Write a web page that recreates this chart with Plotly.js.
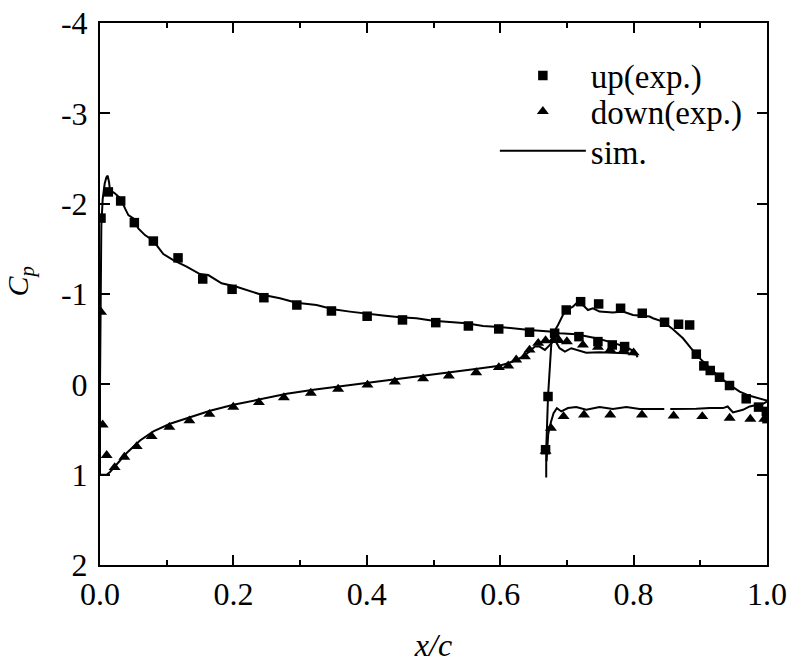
<!DOCTYPE html>
<html>
<head>
<meta charset="utf-8">
<script src="https://cdn.plot.ly/plotly-3.0.1.min.js"></script>
<style>
  html, body { margin: 0; padding: 0; background: #fff; }
  #chart { width: 791px; height: 666px; }
</style>
</head>
<body>
<div id="chart"></div>
<script>
// Pressure coefficient on a two-element airfoil (main element + flap)

// Experimental points, upper surfaces (main element, then flap)
const upX = [0.0015, 0.0125, 0.031, 0.0515, 0.080, 0.117, 0.154, 0.198, 0.2457, 0.2951,
  0.347, 0.4005, 0.4535, 0.5034, 0.5523, 0.5978, 0.644, 0.6816, 0.718, 0.7465, 0.768, 0.7865,
  0.668, 0.6717, 0.699, 0.7206, 0.7476, 0.7805, 0.813, 0.8464, 0.8674, 0.884, 0.894, 0.9053,
  0.9149, 0.9288, 0.9438, 0.9688, 0.9873, 0.999, 1.0];
const upCp = [-1.84, -2.13, -2.03, -1.79, -1.586, -1.40, -1.166, -1.052, -0.959, -0.878,
  -0.812, -0.754, -0.713, -0.683, -0.646, -0.613, -0.577, -0.566, -0.528, -0.473, -0.436, -0.418,
  0.724, 0.135, -0.823, -0.915, -0.89, -0.842, -0.787, -0.687, -0.665, -0.657, -0.334, -0.204,
  -0.153, -0.079, 0.013, 0.16, 0.252, 0.30, 0.38];

// Experimental points, lower surfaces (main element, then flap)
const downX = [0.0015, 0.004, 0.01, 0.022, 0.0365, 0.055, 0.0774, 0.104, 0.134, 0.164,
  0.1998, 0.2382, 0.2757, 0.3161, 0.357, 0.401, 0.442, 0.4844, 0.523, 0.564, 0.598, 0.612,
  0.624, 0.637, 0.644, 0.657, 0.668, 0.68, 0.688, 0.70, 0.724, 0.7465, 0.765, 0.785, 0.80,
  0.668, 0.676, 0.695, 0.7256, 0.765, 0.8125, 0.86, 0.903, 0.944, 0.975, 0.996];
const downCp = [-0.80, 0.448, 0.785, 0.92, 0.805, 0.687, 0.577, 0.475, 0.403, 0.33,
  0.252, 0.20, 0.146, 0.097, 0.053, 0.006, -0.028, -0.063, -0.094, -0.131, -0.187, -0.205,
  -0.271, -0.308, -0.381, -0.455, -0.484, -0.492, -0.487, -0.473, -0.436, -0.411, -0.381, -0.373, -0.351,
  0.74, 0.484, 0.356, 0.337, 0.337, 0.337, 0.348, 0.356, 0.374, 0.385, 0.385];

// Simulation: main element (lower TE -> LE -> upper TE), flap upper, flap lower; null breaks the line
const simX = [0.803, 0.789, 0.769, 0.749, 0.729, 0.714, 0.7066, 0.697, 0.689, 0.682, 0.674, 0.667,
  0.659, 0.652, 0.644, 0.634, 0.619, 0.599, 0.56, 0.52, 0.48, 0.44, 0.40, 0.36, 0.32, 0.28,
  0.24, 0.20, 0.165, 0.13, 0.105, 0.08, 0.06, 0.04, 0.0225, 0.015, 0.01, 0.0,
  0.0, 0.001, 0.002, 0.004, 0.007, 0.0095, 0.0115, 0.0135, 0.015, 0.0225, 0.031, 0.0375, 0.0425,
  0.05, 0.0574, 0.0674, 0.0799, 0.0949, 0.1099, 0.1298, 0.1498, 0.1623, 0.1823, 0.2047, 0.2397,
  0.2697, 0.2946, 0.3246, 0.3496, 0.3745, 0.3995, 0.4245, 0.4494, 0.4744, 0.4994, 0.5243, 0.5493,
  0.5743, 0.599, 0.644, 0.674, 0.689, 0.714, 0.744, 0.769, 0.789, 0.8015, 0.806,
  null,
  0.669, 0.669, 0.6717, 0.674, 0.6767, 0.68, 0.6867, 0.694, 0.70, 0.709, 0.7166, 0.724, 0.7316,
  0.739, 0.749, 0.769, 0.784, 0.799, 0.824, 0.829, 0.844, 0.859, 0.874, 0.886, 0.899, 0.914,
  0.929, 0.944, 0.959, 0.974, 0.989, 1.0,
  null,
  0.6695, 0.672, 0.676, 0.68, 0.685, 0.6916, 0.7016, 0.714, 0.729, 0.749, 0.769, 0.789, 0.809,
  0.819, 0.846, null, 0.855, 0.874, 0.894, 0.914, 0.934, 0.941, 0.949, 0.964, 0.974, 0.986, 0.994, 1.0];
const simCp = [-0.33, -0.345, -0.351, -0.356, -0.351, -0.381, -0.40, -0.363, -0.40, -0.492, -0.436, -0.381,
  -0.418, -0.418, -0.363, -0.307, -0.252, -0.205, -0.168, -0.13, -0.094, -0.057, -0.02, 0.017, 0.061, 0.105,
  0.164, 0.227, 0.293, 0.373, 0.436, 0.52, 0.621, 0.76, 0.908, 0.97, 1.0, 1.0,
  0.0, -1.2, -1.75, -2.05, -2.22, -2.29, -2.31, -2.24, -2.15, -2.113, -2.057, -1.947, -1.873,
  -1.836, -1.726, -1.652, -1.589, -1.442, -1.376, -1.302, -1.221, -1.21, -1.118, -1.08, -0.997,
  -0.952, -0.904, -0.878, -0.831, -0.805, -0.787, -0.761, -0.742, -0.731, -0.705, -0.694, -0.676,
  -0.645, -0.635, -0.602, -0.584, -0.566, -0.555, -0.51, -0.462, -0.411, -0.363, -0.30,
  null,
  1.03, 0.724, 0.135, -0.197, -0.455, -0.573, -0.657, -0.768, -0.823, -0.86, -0.915, -0.878, -0.823,
  -0.842, -0.805, -0.794, -0.805, -0.768, -0.75, -0.732, -0.694, -0.61, -0.51, -0.40, -0.29, -0.18,
  -0.08, 0.006, 0.08, 0.127, 0.16, 0.18,
  null,
  0.85, 0.55, 0.42, 0.32, 0.263, 0.30, 0.263, 0.252, 0.282, 0.252, 0.274, 0.252, 0.274,
  0.274, 0.274, null, 0.274, 0.274, 0.27, 0.263, 0.263, 0.245, 0.311, 0.282, 0.245, 0.226, 0.215, 0.19];

// Tick labels
const xTickVals = [0.0, 0.2, 0.4, 0.6, 0.8, 1.0];
const xTickText = ['0.0', '0.2', '0.4', '0.6', '0.8', '1.0'];
const yTickVals = [-4, -3, -2, -1, 0, 1, 2];
const yTickText = ['-4', '-3', '-2', '-1', '0', '1', '2'];

const FONT = 'Liberation Serif';
const TEXT_SIZE = 32;

const traces = [
  {
    x: simX, y: simCp, name: 'sim.', type: 'scatter', mode: 'lines',
    connectgaps: false,
    line: { color: '#000', width: 2 },
    legend: 'legend3'
  },
  {
    x: upX, y: upCp, name: 'up(exp.)', type: 'scatter', mode: 'markers',
    marker: { symbol: 'square', size: 9.5, color: '#000' },
    legend: 'legend'
  },
  {
    x: downX, y: downCp, name: 'down(exp.)', type: 'scatter', mode: 'markers',
    marker: { symbol: 'triangle-up', size: 10.5, color: '#000' },
    legend: 'legend2'
  }
];

// One legend box per entry so each row sits at its own height
function legendRow(yPaper) {
  return {
    x: 0.592, y: yPaper, xanchor: 'left', yanchor: 'middle',
    bgcolor: 'rgba(0,0,0,0)', borderwidth: 0,
    font: { family: FONT, size: 33, color: '#000' },
    itemwidth: 86
  };
}

const axisCommon = {
  showline: true, linecolor: '#000', linewidth: 2, mirror: 'ticks',
  ticks: 'inside', ticklen: 10, tickwidth: 2, tickcolor: '#000',
  showgrid: false, zeroline: false,
  tickfont: { family: FONT, size: TEXT_SIZE, color: '#000' }
};

const layout = {
  width: 791, height: 666,
  margin: { l: 100, r: 23.5, t: 22.5, b: 101 },
  paper_bgcolor: '#fff', plot_bgcolor: '#fff',
  font: { family: FONT, color: '#000' },
  showlegend: true,
  legend: legendRow(0.903),
  legend2: legendRow(0.837),
  legend3: legendRow(0.764),
  xaxis: Object.assign({}, axisCommon, {
    range: [0, 1],
    tickmode: 'array', tickvals: xTickVals, ticktext: xTickText,
    minor: { dtick: 0.1, tick0: 0, ticks: 'inside', ticklen: 5, tickwidth: 2, tickcolor: '#000' },
    ticklabelstandoff: 0,
    title: { text: '<i>x/c</i>', font: { family: FONT, size: TEXT_SIZE, color: '#000' }, standoff: 22 }
  }),
  yaxis: Object.assign({}, axisCommon, {
    range: [2, -4],
    tickmode: 'array', tickvals: yTickVals, ticktext: yTickText,
    ticklabelstandoff: 4
  }),
  annotations: [{
    text: '<i>C<sub>p</sub></i>', textangle: -90, showarrow: false,
    xref: 'paper', yref: 'paper', x: -0.12, y: 0.525, xanchor: 'center', yanchor: 'middle',
    font: { family: FONT, size: 30, color: '#000' }
  }]
};

Plotly.newPlot('chart', traces, layout, { displayModeBar: false, staticPlot: true });
</script>
</body>
</html>
